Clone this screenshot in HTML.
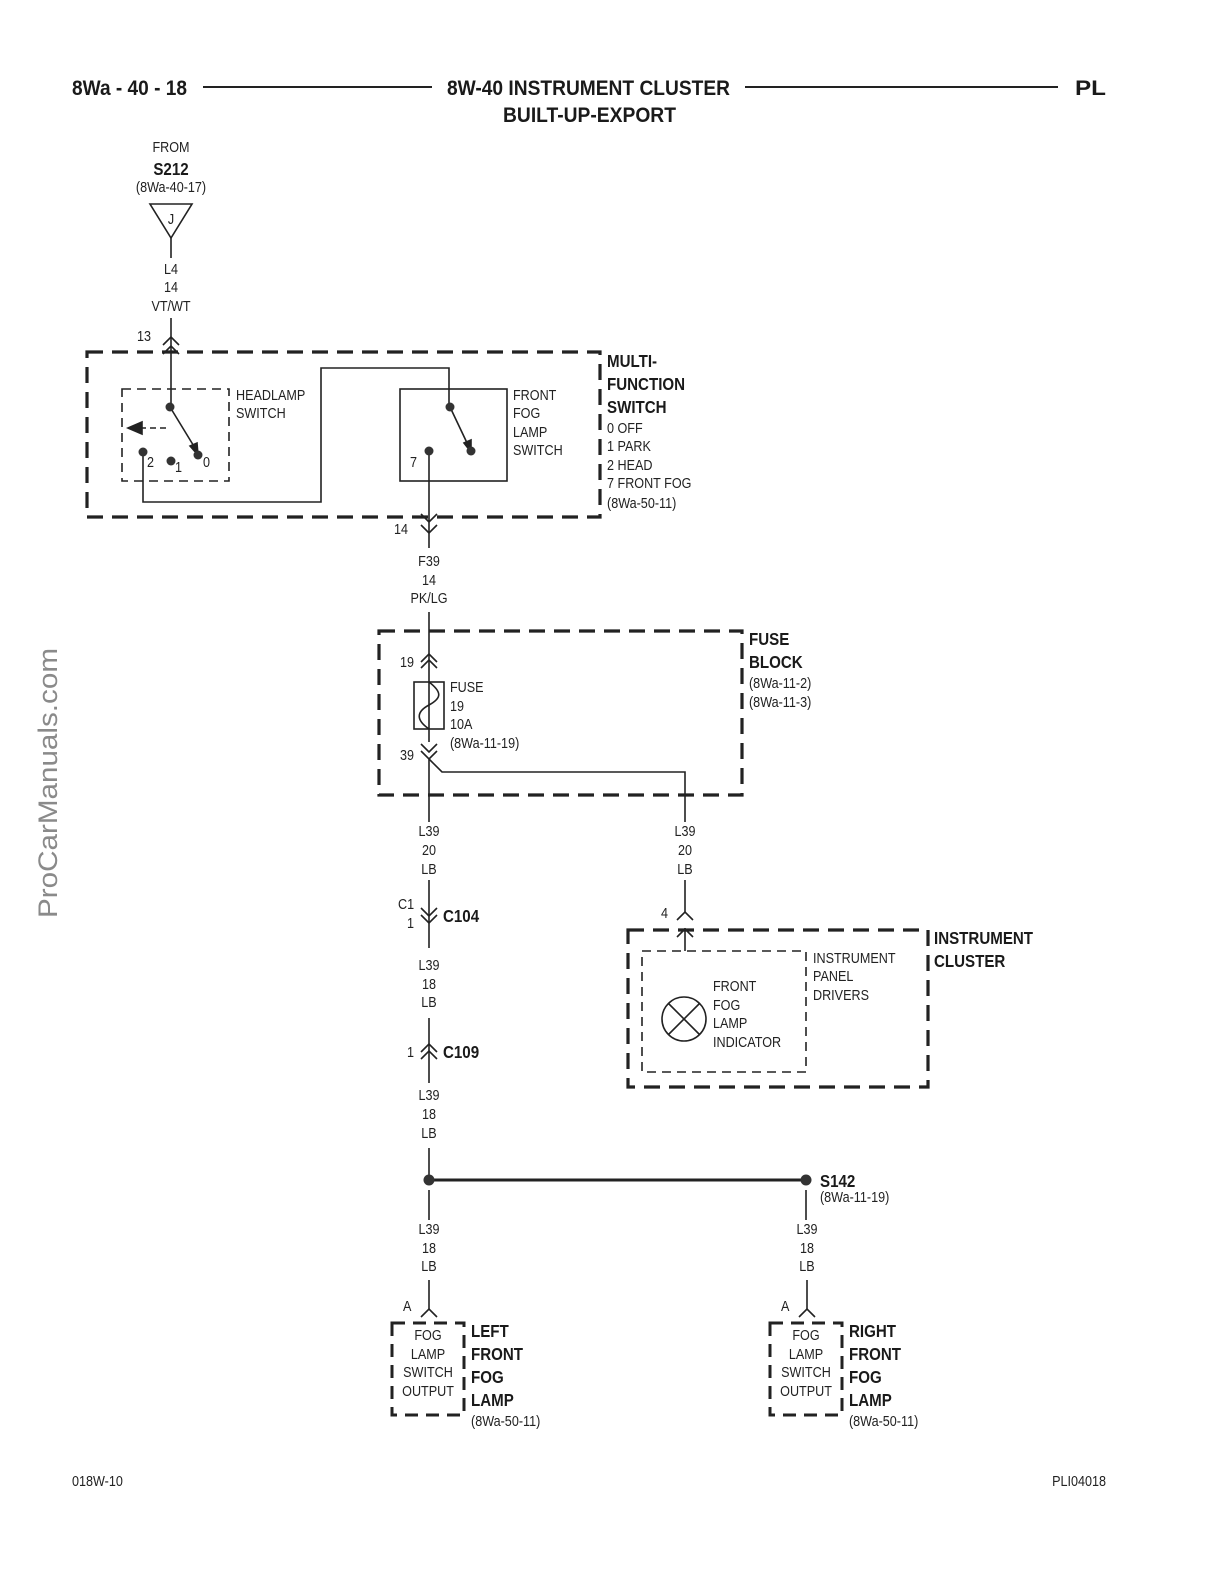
<!DOCTYPE html>
<html><head><meta charset="utf-8"><style>
html,body{margin:0;padding:0;background:#fff;width:1224px;height:1584px;overflow:hidden}
svg{display:block;overflow:hidden}
text{font-family:"Liberation Sans",sans-serif;fill:#222;font-size:15px;transform-box:fill-box;transform-origin:0% 50%;transform:scaleX(0.84)}
.b{font-weight:bold;font-size:19px;fill:#1a1a1a}
.c{text-anchor:middle;transform-origin:50% 50%}
.e{text-anchor:end;transform-origin:100% 50%}
.n{transform:none}
</style></head><body>
<svg width="1224" height="1584" viewBox="0 0 1224 1584" xmlns="http://www.w3.org/2000/svg">
<g stroke="#222" fill="none" stroke-width="1.6">
<line x1="203" y1="87" x2="432" y2="87" stroke-width="2"/>
<line x1="745" y1="87" x2="1058" y2="87" stroke-width="2"/>
<path d="M150 204 L192 204 L171 238 Z"/>
<line x1="171" y1="238" x2="171" y2="258"/>
<line x1="171" y1="318" x2="171" y2="407"/>
<path d="M163 345 L171 337 L179 345 M163 354 L171 346 L179 354"/>
<rect x="87" y="352" width="513" height="165" stroke-width="3.2" stroke-dasharray="16 9"/>
<rect x="122" y="389" width="107" height="92" stroke-dasharray="9 6"/>
<rect x="400" y="389" width="107" height="92"/>
<line x1="170" y1="407" x2="195" y2="448"/>
<path d="M190 446 L198 455 L197 443 Z" fill="#222"/>
<line x1="140" y1="428" x2="170" y2="428" stroke-dasharray="6 4"/>
<path d="M128 428 L142 422 L142 434 Z" fill="#222"/>
<path d="M143 452 L143 502 L321 502 L321 368 L449 368 L449 407"/>
<line x1="450" y1="407" x2="468" y2="445"/>
<path d="M464 443 L471 452 L471 440 Z" fill="#222"/>
<line x1="429" y1="451" x2="429" y2="548"/>
<path d="M421 514 L429 522 L437 514 M421 525 L429 533 L437 525"/>
<line x1="429" y1="612" x2="429" y2="742"/>
<rect x="379" y="631" width="363" height="164" stroke-width="3.2" stroke-dasharray="16 9"/>
<path d="M421 662 L429 654 L437 662 M421 668 L429 660 L437 668"/>
<rect x="414" y="682" width="30" height="47"/>
<path d="M429 682 C442 692 442 698 429 705 C416 712 416 720 429 729" />
<path d="M421 744 L429 752 L437 744 M421 751 L429 759 L437 751"/>
<path d="M429 759 L442 772 L685 772 L685 822"/>
<line x1="429" y1="759" x2="429" y2="822"/>
<line x1="429" y1="880" x2="429" y2="948"/>
<path d="M421 908 L429 916 L437 908 M421 915 L429 923 L437 915"/>
<line x1="429" y1="1018" x2="429" y2="1083"/>
<path d="M421 1052 L429 1044 L437 1052 M421 1059 L429 1051 L437 1059"/>
<line x1="429" y1="1148" x2="429" y2="1180"/>
<line x1="429" y1="1180" x2="806" y2="1180" stroke-width="3"/>
<line x1="429" y1="1190" x2="429" y2="1220"/>
<line x1="806" y1="1190" x2="806" y2="1220"/>
<line x1="429" y1="1280" x2="429" y2="1309"/>
<line x1="807" y1="1280" x2="807" y2="1309"/>
<path d="M421 1317 L429 1309 L437 1317"/>
<path d="M799 1317 L807 1309 L815 1317"/>
<rect x="392" y="1323" width="72" height="92" stroke-width="3" stroke-dasharray="13 8"/>
<rect x="770" y="1323" width="72" height="92" stroke-width="3" stroke-dasharray="13 8"/>
<line x1="685" y1="880" x2="685" y2="912"/>
<path d="M677 920 L685 912 L693 920"/>
<rect x="628" y="930" width="300" height="157" stroke-width="3.2" stroke-dasharray="16 9"/>
<rect x="642" y="951" width="164" height="121" stroke-dasharray="9 6"/>
<line x1="685" y1="928" x2="685" y2="951"/>
<path d="M677 937 L685 929 L693 937"/>
<circle cx="684" cy="1019" r="22"/>
<path d="M668.5 1003.5 L699.5 1034.5 M699.5 1003.5 L668.5 1034.5"/>
</g>
<g fill="#333">
<circle cx="170" cy="407" r="4.5"/><circle cx="198" cy="455" r="4.5"/>
<circle cx="143" cy="452" r="4.5"/><circle cx="171" cy="461" r="4.5"/>
<circle cx="450" cy="407" r="4.5"/><circle cx="471" cy="451" r="4.5"/>
<circle cx="429" cy="451" r="4.5"/>
<circle cx="429" cy="1180" r="5.5"/><circle cx="806" cy="1180" r="5.5"/>
</g>
<text x="72" y="95" class="b n" style="font-size:21px" textLength="115" lengthAdjust="spacingAndGlyphs">8Wa - 40 - 18</text>
<text x="447" y="95" class="b n" textLength="283" lengthAdjust="spacingAndGlyphs" style="font-size:21px">8W-40 INSTRUMENT CLUSTER</text>
<text x="503" y="122" class="b n" textLength="173" lengthAdjust="spacingAndGlyphs" style="font-size:21px">BUILT-UP-EXPORT</text>
<text x="1075" y="95" class="b n" textLength="31" lengthAdjust="spacingAndGlyphs" style="font-size:21px">PL</text>
<text x="171" y="152" class="c" font-size="14">FROM</text>
<text x="171" y="175" class="b c" style="font-size:18px">S212</text>
<text x="171" y="192" class="c" font-size="14">(8Wa-40-17)</text>
<text x="171" y="224" class="c" font-size="14">J</text>
<text x="171" y="274" class="c" font-size="14">L4</text>
<text x="171" y="292" class="c" font-size="14">14</text>
<text x="171" y="311" class="c" font-size="14">VT/WT</text>
<text x="137" y="341" font-size="14">13</text>
<text x="236" y="400" font-size="14">HEADLAMP</text>
<text x="236" y="418" font-size="14">SWITCH</text>
<text x="147" y="467" font-size="14">2</text><text x="175" y="472" font-size="14">1</text><text x="203" y="467" font-size="14">0</text>
<text x="513" y="400" font-size="14">FRONT</text>
<text x="513" y="418" font-size="14">FOG</text>
<text x="513" y="437" font-size="14">LAMP</text>
<text x="513" y="455" font-size="14">SWITCH</text>
<text x="410" y="467" font-size="14">7</text>
<text x="607" y="367" class="b" style="font-size:18px">MULTI-</text>
<text x="607" y="390" class="b" style="font-size:18px">FUNCTION</text>
<text x="607" y="413" class="b" style="font-size:18px">SWITCH</text>
<text x="607" y="433" font-size="14">0 OFF</text>
<text x="607" y="451" font-size="14">1 PARK</text>
<text x="607" y="470" font-size="14">2 HEAD</text>
<text x="607" y="488" font-size="14">7 FRONT FOG</text>
<text x="607" y="508" font-size="14">(8Wa-50-11)</text>
<text x="394" y="534" font-size="14">14</text>
<text x="429" y="566" class="c" font-size="14">F39</text>
<text x="429" y="585" class="c" font-size="14">14</text>
<text x="429" y="603" class="c" font-size="14">PK/LG</text>
<text x="400" y="667" font-size="14">19</text>
<text x="450" y="692" font-size="14">FUSE</text>
<text x="450" y="711" font-size="14">19</text>
<text x="450" y="729" font-size="14">10A</text>
<text x="450" y="748" font-size="14">(8Wa-11-19)</text>
<text x="400" y="760" font-size="14">39</text>
<text x="749" y="645" class="b" style="font-size:18px">FUSE</text>
<text x="749" y="668" class="b" style="font-size:18px">BLOCK</text>
<text x="749" y="688" font-size="14">(8Wa-11-2)</text>
<text x="749" y="707" font-size="14">(8Wa-11-3)</text>
<text x="429" y="836" class="c" font-size="14">L39</text><text x="429" y="855" class="c" font-size="14">20</text><text x="429" y="874" class="c" font-size="14">LB</text>
<text x="685" y="836" class="c" font-size="14">L39</text><text x="685" y="855" class="c" font-size="14">20</text><text x="685" y="874" class="c" font-size="14">LB</text>
<text x="398" y="909" font-size="14">C1</text><text x="407" y="928" font-size="14">1</text>
<text x="443" y="922" class="b" style="font-size:18px">C104</text>
<text x="429" y="970" class="c" font-size="14">L39</text><text x="429" y="989" class="c" font-size="14">18</text><text x="429" y="1007" class="c" font-size="14">LB</text>
<text x="407" y="1057" font-size="14">1</text>
<text x="443" y="1058" class="b" style="font-size:18px">C109</text>
<text x="429" y="1100" class="c" font-size="14">L39</text><text x="429" y="1119" class="c" font-size="14">18</text><text x="429" y="1138" class="c" font-size="14">LB</text>
<text x="820" y="1187" class="b" style="font-size:18px">S142</text>
<text x="820" y="1202" font-size="14">(8Wa-11-19)</text>
<text x="429" y="1234" class="c" font-size="14">L39</text><text x="429" y="1253" class="c" font-size="14">18</text><text x="429" y="1271" class="c" font-size="14">LB</text>
<text x="807" y="1234" class="c" font-size="14">L39</text><text x="807" y="1253" class="c" font-size="14">18</text><text x="807" y="1271" class="c" font-size="14">LB</text>
<text x="403" y="1311" font-size="14">A</text><text x="781" y="1311" font-size="14">A</text>
<text x="428" y="1340" class="c" font-size="14">FOG</text><text x="428" y="1359" class="c" font-size="14">LAMP</text><text x="428" y="1377" class="c" font-size="14">SWITCH</text><text x="428" y="1396" class="c" font-size="14">OUTPUT</text>
<text x="806" y="1340" class="c" font-size="14">FOG</text><text x="806" y="1359" class="c" font-size="14">LAMP</text><text x="806" y="1377" class="c" font-size="14">SWITCH</text><text x="806" y="1396" class="c" font-size="14">OUTPUT</text>
<text x="471" y="1337" class="b" style="font-size:18px">LEFT</text><text x="471" y="1360" class="b" style="font-size:18px">FRONT</text><text x="471" y="1383" class="b" style="font-size:18px">FOG</text><text x="471" y="1406" class="b" style="font-size:18px">LAMP</text>
<text x="471" y="1426" font-size="14">(8Wa-50-11)</text>
<text x="849" y="1337" class="b" style="font-size:18px">RIGHT</text><text x="849" y="1360" class="b" style="font-size:18px">FRONT</text><text x="849" y="1383" class="b" style="font-size:18px">FOG</text><text x="849" y="1406" class="b" style="font-size:18px">LAMP</text>
<text x="849" y="1426" font-size="14">(8Wa-50-11)</text>
<text x="661" y="918" font-size="14">4</text>
<text x="934" y="944" class="b" style="font-size:18px">INSTRUMENT</text>
<text x="934" y="967" class="b" style="font-size:18px">CLUSTER</text>
<text x="813" y="963" font-size="14">INSTRUMENT</text><text x="813" y="981" font-size="14">PANEL</text><text x="813" y="1000" font-size="14">DRIVERS</text>
<text x="713" y="991" font-size="14">FRONT</text><text x="713" y="1010" font-size="14">FOG</text><text x="713" y="1028" font-size="14">LAMP</text><text x="713" y="1047" font-size="14">INDICATOR</text>
<text x="72" y="1486" font-size="14">018W-10</text>
<text x="1106" y="1486" class="e" font-size="14">PLI04018</text>
<text class="n" transform="translate(57,918) rotate(-90)" style="font-family:'Liberation Sans',sans-serif;font-size:27px;fill:#8a8a8a;transform:translate(57px,918px) rotate(-90deg);transform-origin:0 0;transform-box:view-box" textLength="270" lengthAdjust="spacingAndGlyphs">ProCarManuals.com</text>
</svg>
</body></html>
